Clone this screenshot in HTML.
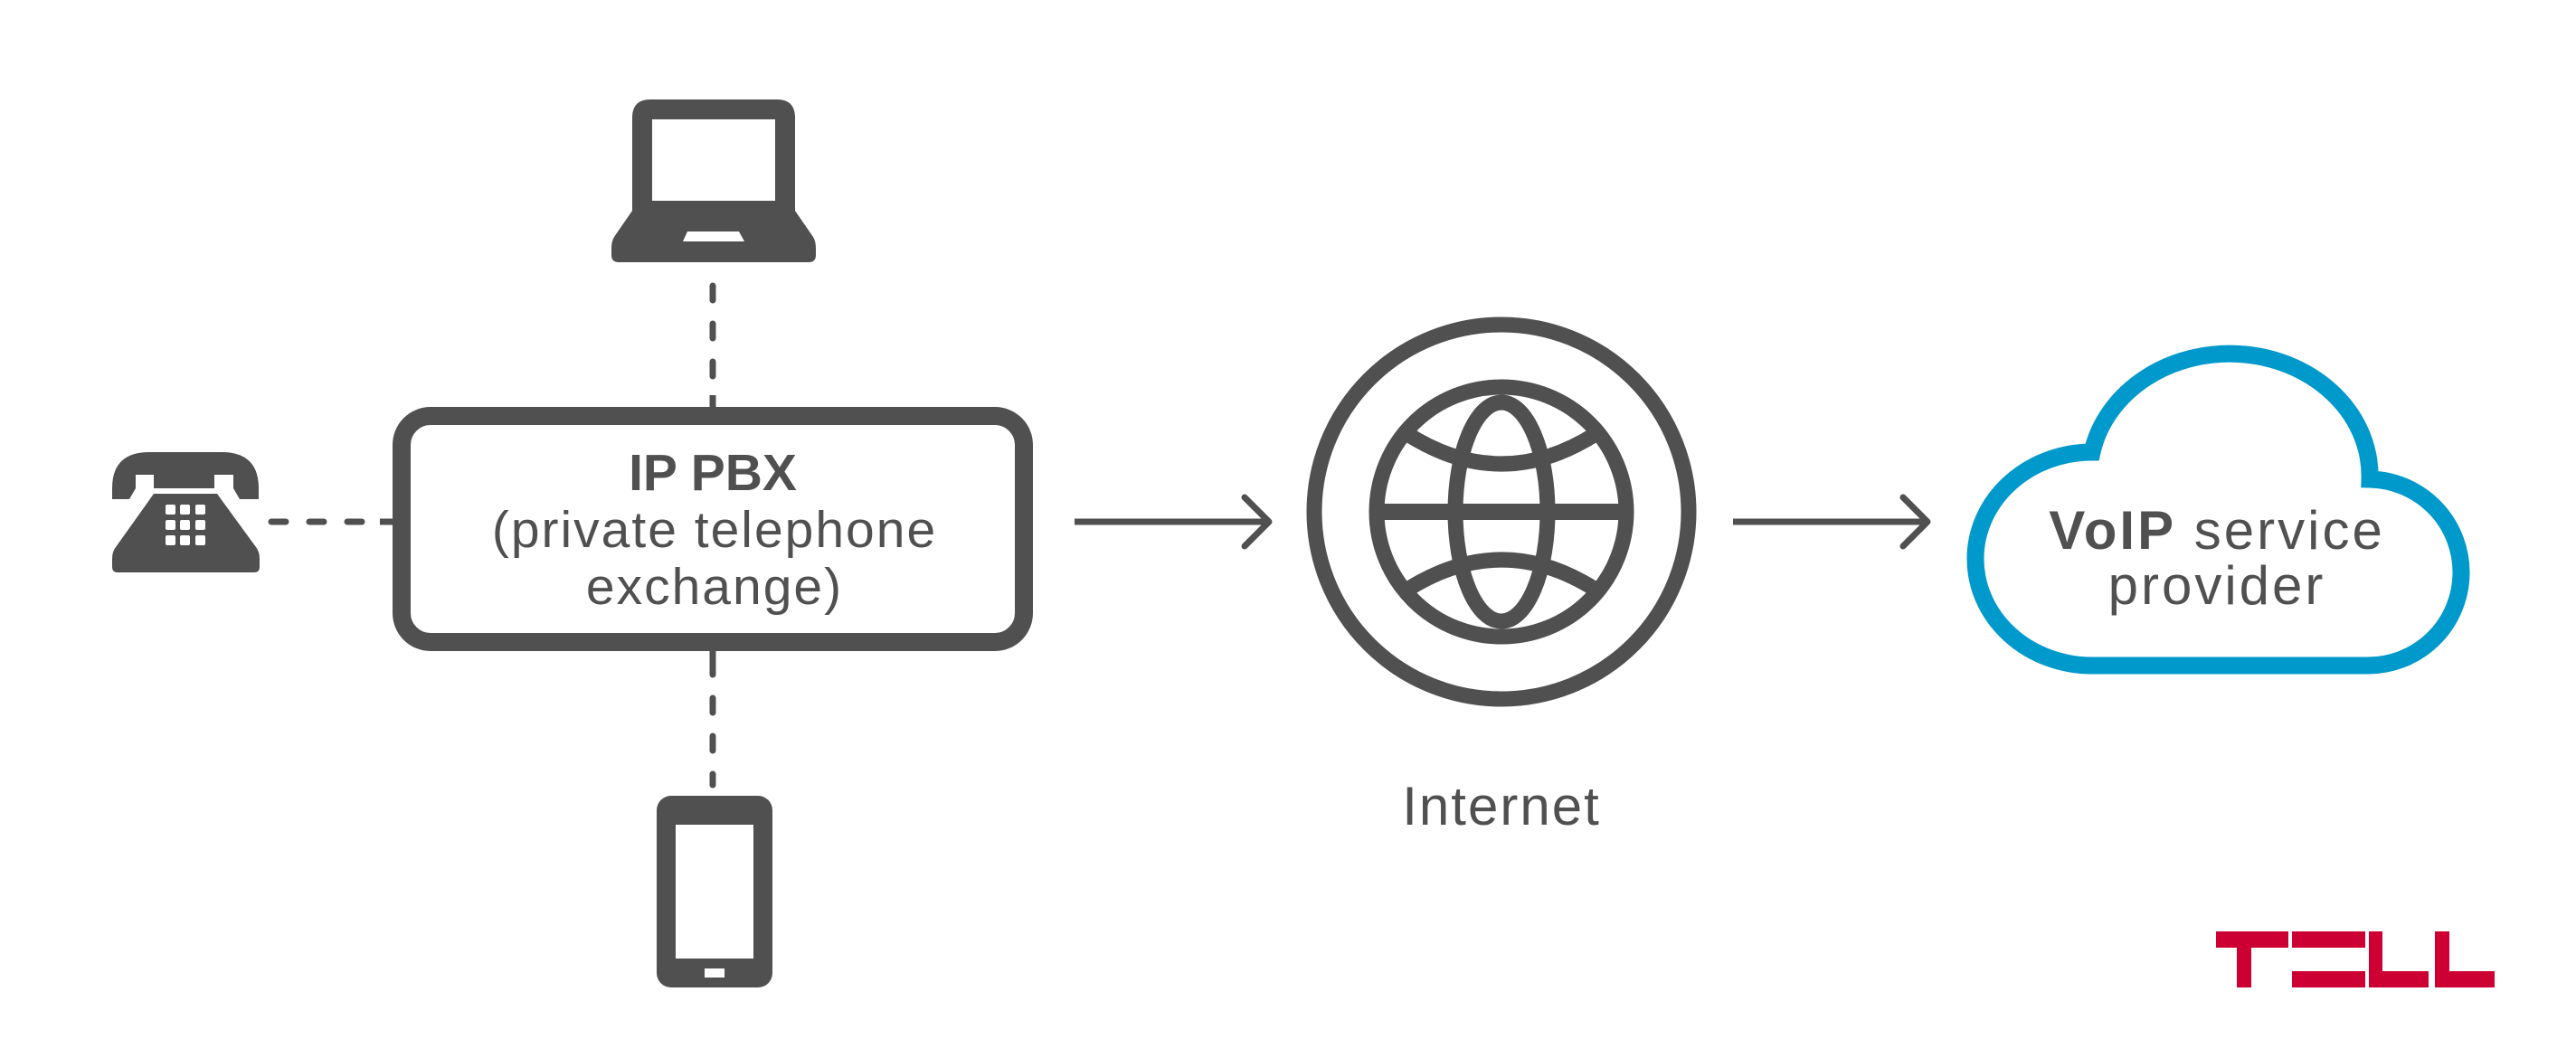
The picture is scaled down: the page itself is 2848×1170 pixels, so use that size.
<!DOCTYPE html>
<html><head><meta charset="utf-8"><style>
html,body{margin:0;padding:0;background:#fff;}
svg{display:block;}
text{font-family:"Liberation Sans",Arial,sans-serif;fill:#505050;}
</style></head><body>
<svg width="2848" height="1170" viewBox="0 0 2848 1170" xmlns="http://www.w3.org/2000/svg">
<!-- laptop -->
<path fill="#505050" d="M719,110 H859 Q879,110 879,130 V233 L899,262 Q902,267 902,275 V282 Q902,290 894,290 H684 Q676,290 676,282 V275 Q676,267 679,262 L699,233 V130 Q699,110 719,110 Z"/>
<rect x="721" y="132" width="136" height="90" fill="#fff"/>
<path fill="#fff" d="M760,256 H817 L823,267 H755 Z"/>
<!-- dashed connectors -->
<g stroke="#505050" stroke-width="7" stroke-linecap="round" fill="none">
<line x1="788" y1="316" x2="788" y2="450" stroke-dasharray="16 26"/>
<line x1="788" y1="730" x2="788" y2="868" stroke-dasharray="16 26"/>
<line x1="300" y1="577" x2="432" y2="577" stroke-dasharray="16 26"/>
</g>
<line x1="788" y1="437" x2="788" y2="455" stroke="#505050" stroke-width="7"/>
<line x1="788" y1="715" x2="788" y2="733" stroke="#505050" stroke-width="7"/>
<line x1="420" y1="577" x2="440" y2="577" stroke="#505050" stroke-width="7"/>
<!-- PBX box -->
<rect x="444" y="460" width="688" height="250" rx="32" fill="#fff" stroke="#505050" stroke-width="20"/>
<text x="788" y="542" font-size="57" font-weight="bold" text-anchor="middle">IP PBX</text>
<text x="790" y="605" font-size="57" letter-spacing="2" text-anchor="middle">(private telephone</text>
<text x="790" y="668" font-size="57" letter-spacing="2" text-anchor="middle">exchange)</text>
<!-- desk phone -->
<path fill="#505050" d="M124,540 Q124,500 165,500 H245 Q286,500 286,540 V552 H265 L258,540 V525 H237 V540 H170 V525 H150 V540 L143,552 H124 Z"/>
<path fill="#505050" d="M170,546 H240 L283,605 Q287,610 287,618 V627 Q287,633 281,633 H130 Q124,633 124,627 V618 Q124,610 128,605 Z"/>
<g fill="#fff">
<rect x="183" y="558" width="11" height="11" rx="2"/><rect x="199" y="558" width="11" height="11" rx="2"/><rect x="216" y="558" width="11" height="11" rx="2"/>
<rect x="183" y="575" width="11" height="11" rx="2"/><rect x="199" y="575" width="11" height="11" rx="2"/><rect x="216" y="575" width="11" height="11" rx="2"/>
<rect x="183" y="592" width="11" height="11" rx="2"/><rect x="199" y="592" width="11" height="11" rx="2"/><rect x="216" y="592" width="11" height="11" rx="2"/>
</g>
<!-- mobile -->
<rect x="726" y="880" width="128" height="212" rx="16" fill="#505050"/>
<rect x="747" y="912" width="86" height="148" fill="#fff"/>
<rect x="779" y="1071" width="22" height="10" fill="#fff"/>
<!-- arrows -->
<g stroke="#505050" stroke-width="7" fill="none" stroke-linecap="round" stroke-linejoin="round">
<line x1="1188" y1="577" x2="1400" y2="577" stroke-linecap="butt"/>
<polyline points="1376,550 1403,577 1376,604"/>
<line x1="1916" y1="577" x2="2128" y2="577" stroke-linecap="butt"/>
<polyline points="2104,550 2131,577 2104,604"/>
</g>
<!-- globe -->
<g stroke="#505050" fill="none" stroke-width="17">
<circle cx="1660" cy="566" r="207"/>
<circle cx="1660" cy="566" r="138"/>
<ellipse cx="1660" cy="566" rx="51" ry="121"/>
<line x1="1525" y1="566" x2="1795" y2="566" stroke-width="18"/>
<path d="M1556,480 Q1660,546 1764,480"/>
<path d="M1556,652 Q1660,586 1764,652"/>
</g>
<text x="1660" y="912" font-size="60" letter-spacing="2" text-anchor="middle">Internet</text>
<!-- cloud -->
<g transform="translate(-12,-5)">
<path d="M2325,741 L2628,741 A103,103 0 0 0 2632,535 A155,135 0 0 0 2325,505 A129,118 0 0 0 2325,741 Z" fill="#fff" stroke="#0099cc" stroke-width="19"/>
</g>
<text x="2451" y="607" font-size="60" letter-spacing="3" text-anchor="middle"><tspan font-weight="bold">VoIP</tspan> service</text>
<text x="2451" y="668" font-size="60" letter-spacing="3" text-anchor="middle">provider</text>
<!-- TELL logo -->
<g fill="#cc0033">
<rect x="2450" y="1030" width="80" height="18"/>
<rect x="2473" y="1030" width="16" height="62"/>
<rect x="2534" y="1030" width="81" height="18"/>
<rect x="2534" y="1074" width="81" height="18"/>
<rect x="2619" y="1030" width="15" height="62"/>
<rect x="2619" y="1074" width="66" height="18"/>
<rect x="2692" y="1030" width="16" height="62"/>
<rect x="2692" y="1074" width="66" height="18"/>
</g>
</svg>
</body></html>
